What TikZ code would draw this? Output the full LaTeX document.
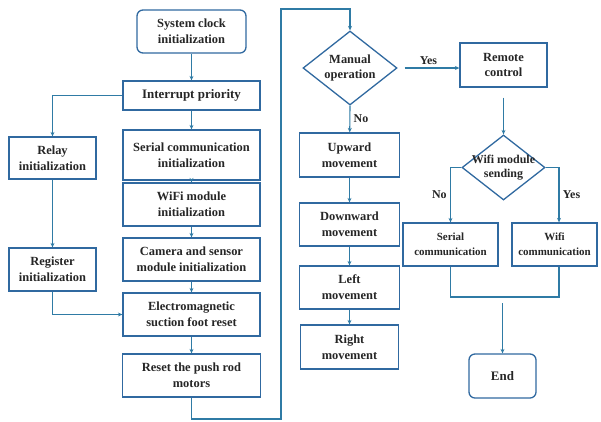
\documentclass[tikz,border=0pt]{standalone}
\usepackage{fontspec}
\setmainfont{Liberation Serif}
\usepackage{tikz}
\usetikzlibrary{arrows.meta, positioning, shapes.geometric}
\definecolor{boxblue}{HTML}{3069A0}
\definecolor{flowline}{HTML}{2F7BA5}

\begin{document}
\begin{tikzpicture}[x=1bp, y=-1bp,
        >={Stealth[length=4.5pt, width=4pt]},
        box/.style={draw=boxblue, line width=1.3pt, align=center, text=black!85,
                    font=\fontsize{12.5}{16}\selectfont\bfseries, inner sep=0pt,
                    minimum width=137bp, minimum height=43bp},
        rbox/.style={box, rounded corners=6pt},
        decision/.style={box, diamond, aspect=1.27, minimum width=94bp, minimum height=74bp},
        arr/.style={->, draw=flowline, line width=1.1pt},
        flow/.style={draw=flowline, line width=1.1pt},
        lbl/.style={font=\fontsize{12}{14}\selectfont\bfseries, text=black!85},
    ]
    \useasboundingbox[fill=white] (0,0) rectangle (601,421);
    % initialization column
    \node[rbox, minimum width=109bp] (sysclk) at (191.5,31.5) {System clock\\initialization};
    \node[box, minimum height=29bp, font=\fontsize{13}{16}\selectfont\bfseries] (irq) at (191.5,95.5) {Interrupt priority};
    \node[box, minimum height=50bp] (serinit) at (191.5,155) {Serial communication\\initialization};
    \node[box] (wifiinit) at (191.5,204.5) {WiFi module\\initialization};
    \node[box] (caminit) at (191.5,259.5) {Camera and sensor\\module initialization};
    \node[box] (emreset) at (191.5,314.5) {Electromagnetic\\suction foot reset};
    \node[box, minimum width=138bp] (rodreset) at (191.5,375.5) {Reset the push rod\\motors};
    \node[box, minimum width=87bp, minimum height=42bp] (relay) at (52.5,158) {Relay\\initialization};
    \node[box, minimum width=87bp] (reg) at (52.5,269.5) {Register\\initialization};
    % manual branch
    \node[decision] (manual) at (350,68) {Manual\\operation};
    \node[box, minimum width=100bp, minimum height=44bp] (upmv) at (349.5,155) {Upward\\movement};
    \node[box, minimum width=100bp] (downmv) at (349.5,224.5) {Downward\\movement};
    \node[box, minimum width=100bp] (leftmv) at (349.5,287.5) {Left\\movement};
    \node[box, minimum width=98bp, minimum height=44bp] (rightmv) at (349.5,347) {Right\\movement};
    % remote branch
    \node[box, minimum width=87bp, minimum height=44bp] (remote) at (503.5,65) {Remote\\control};
    \node[decision, font=\fontsize{12}{14}\selectfont\bfseries, inner sep=-6pt, aspect=1.28,
          minimum width=83bp, minimum height=65bp] (wdia) at (503.5,167.5) {Wifi module\\sending};
    \node[box, font=\fontsize{11}{15}\selectfont\bfseries, minimum width=95bp] (scomm) at (450.5,244.5) {Serial\\communication};
    \node[box, font=\fontsize{11}{15}\selectfont\bfseries, minimum width=85bp] (wcomm) at (554.5,244.5) {Wifi\\communication};
    \node[rbox, font=\fontsize{13}{16}\selectfont\bfseries, minimum width=67bp, minimum height=44bp] (finish) at (502.5,376) {End};
    \coordinate (loopbot) at (281,419);
    \coordinate (looptop) at (281,9);
    \coordinate (joinpt) at (505,297);
    \coordinate (endfeed) at (502.5,303);
    % connectors
    \draw[arr] (sysclk) -- (irq);
    \draw[arr] (irq.west) -| (relay.north);
    \draw[arr] (irq) -- (serinit);
    \draw[arr] (serinit) -- (wifiinit);
    \draw[arr] (wifiinit) -- (caminit);
    \draw[arr] (caminit) -- (emreset);
    \draw[arr] (emreset) -- (rodreset);
    \draw[arr] (relay) -- (reg);
    \draw[arr] (reg.south) |- (emreset.west);
    \draw[arr] (rodreset.south) |- (loopbot) -- (looptop) -| (manual.north);
    \draw[arr, shorten <=7bp] (manual.east) -- (manual.east -| remote.west)
        node[lbl, midway, above] {Yes};
    \draw[arr] (manual.south) -- (upmv) node[lbl, midway, right] {No};
    \draw[arr] (upmv) -- (downmv);
    \draw[arr] (downmv) -- (leftmv);
    \draw[arr] (leftmv) -- (rightmv);
    \draw[arr, shorten <=10bp] (remote.south) -- (wdia.north);
    \draw[arr] (wdia.west) -| (scomm.north) node[lbl, pos=0.75, left] {No};
    \draw[arr] (wdia.east) -| ([xshift=4.5bp]wcomm.north) node[lbl, pos=0.75, right] {Yes};
    \draw[flow] (scomm.south) |- (joinpt) -| ([xshift=4.5bp]wcomm.south);
    \draw[arr] (endfeed) -- (finish);
\end{tikzpicture}
\end{document}
